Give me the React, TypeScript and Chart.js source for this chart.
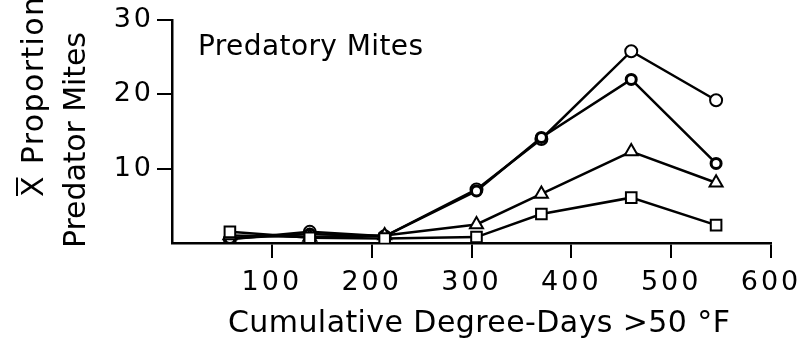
import React, { useEffect, useRef } from "react";
import { Chart, registerables } from "chart.js";

Chart.register(...registerables);

// ---- data ----
const degreeDays = [58, 138, 213, 305, 370, 460, 545];
const seriesOpenCircle = [0.5, 1.5, 0.9, 7.2, 14.0, 25.8, 19.2];
const seriesBoldCircle = [0.6, 1.2, 0.9, 7.0, 14.2, 22.0, 10.7];
const seriesTriangle = [1.0, 0.8, 1.0, 2.5, 6.6, 12.3, 8.1];
const seriesSquare = [1.5, 0.7, 0.6, 0.8, 3.9, 6.1, 2.4];
const xTickValues = [100, 200, 300, 400, 500, 600];
const yTickValues = [10, 20, 30];
const panelLabel = "Predatory Mites";
const xTitle = "Cumulative Degree-Days >50 °F";
const yTitleLine1 = "X Proportion";
const yTitleLine2 = "Predator Mites";

const FONT = '"DejaVu Sans", sans-serif';
const INK = "#000";

function pts(ys: number[]) {
  return ys.map((y, i) => ({ x: degreeDays[i], y }));
}

function fitText(ctx: CanvasRenderingContext2D, text: string, x: number, y: number, width: number) {
  (ctx as any).letterSpacing = "0px";
  const w = ctx.measureText(text).width;
  const ls = (width - w) / Math.max(1, text.length - 1);
  (ctx as any).letterSpacing = ls + "px";
  ctx.fillText(text, x, y);
  (ctx as any).letterSpacing = "0px";
}

const spacingPlugin = {
  id: "spacingPlugin",
  beforeDraw(chart: any) {
    (chart.ctx as any).letterSpacing = "3px";
  },
  beforeDatasetsDraw(chart: any) {
    (chart.ctx as any).letterSpacing = "0px";
  },
};

const textPlugin = {
  id: "textPlugin",
  afterDraw(chart: any) {
    const ctx: CanvasRenderingContext2D = chart.ctx;
    ctx.save();
    ctx.fillStyle = INK;
    ctx.strokeStyle = INK;
    ctx.textAlign = "left";
    ctx.textBaseline = "alphabetic";

    // panel label
    ctx.font = `28px ${FONT}`;
    fitText(ctx, panelLabel, 198, 55, 225);

    // x title
    ctx.font = `30px ${FONT}`;
    fitText(ctx, xTitle, 228, 332, 502);

    // y title line 1 (with overline on X)
    ctx.save();
    ctx.translate(43, 197);
    ctx.rotate(-Math.PI / 2);
    ctx.font = `30px ${FONT}`;
    fitText(ctx, yTitleLine1, 0, 0, 200);
    (ctx as any).letterSpacing = "0px";
    const wX = ctx.measureText("X").width;
    ctx.lineWidth = 2;
    ctx.beginPath();
    ctx.moveTo(1, -26);
    ctx.lineTo(wX - 1, -26);
    ctx.stroke();
    ctx.restore();

    // y title line 2
    ctx.save();
    ctx.translate(85, 248);
    ctx.rotate(-Math.PI / 2);
    ctx.font = `30px ${FONT}`;
    fitText(ctx, yTitleLine2, 0, 0, 216);
    ctx.restore();

    ctx.restore();
  },
};

export default function App() {
  const ref = useRef<HTMLCanvasElement | null>(null);

  useEffect(() => {
    if (!ref.current) return;
    const common = {
      borderColor: INK,
      backgroundColor: "#fff",
      pointBackgroundColor: "#fff",
      pointBorderColor: INK,
      borderWidth: 2.5,
      pointBorderWidth: 2,
      showLine: true,
      fill: false,
      tension: 0,
    };
    const chart = new Chart(ref.current, {
      type: "scatter",
      data: {
        datasets: [
          { ...common, label: "a", data: pts(seriesSquare), pointStyle: "rect", pointRadius: 7.5 },
          { ...common, label: "b", data: pts(seriesTriangle), pointStyle: "triangle", pointRadius: 7.5 },
          { ...common, label: "c", data: pts(seriesBoldCircle), pointStyle: "circle", pointRadius: 5, pointBorderWidth: 3 },
          { ...common, label: "d", data: pts(seriesOpenCircle), pointStyle: "circle", pointRadius: 6 },
        ],
      },
      options: {
        responsive: false,
        animation: false,
        layout: { padding: { top: 20, right: 36, left: 0, bottom: 0 } },
        plugins: {
          legend: { display: false },
          tooltip: { enabled: false },
          title: { display: false },
        },
        scales: {
          x: {
            type: "linear",
            min: 0,
            max: 600,
            afterBuildTicks: (s: any) => {
              s.ticks = [0, ...xTickValues].map((v) => ({ value: v }));
            },
            afterFit: (s: any) => {
              s.height = 103;
            },
            border: { display: true, color: INK, width: 2.5 },
            grid: {
              drawOnChartArea: false,
              drawTicks: true,
              tickLength: 15,
              lineWidth: 2,
              color: (c: any) => (c.tick && c.tick.value === 0 ? "rgba(0,0,0,0)" : INK),
            },
            ticks: {
              color: INK,
              padding: 9,
              maxRotation: 0,
              autoSkip: false,
              font: { family: FONT, size: 27 },
              callback: (v: any) => (v === 0 ? "" : String(v)),
            },
          },
          y: {
            type: "linear",
            min: 0,
            max: 30,
            afterBuildTicks: (s: any) => {
              s.ticks = [0, ...yTickValues].map((v) => ({ value: v }));
            },
            afterFit: (s: any) => {
              s.width = 172;
            },
            border: { display: true, color: INK, width: 2.5 },
            grid: {
              drawOnChartArea: false,
              drawTicks: true,
              tickLength: 15,
              lineWidth: 2,
              color: (c: any) => (c.tick && c.tick.value === 0 ? "rgba(0,0,0,0)" : INK),
            },
            ticks: {
              color: INK,
              padding: 3,
              autoSkip: false,
              font: { family: FONT, size: 27 },
              callback: (v: any) => (v === 0 ? "" : String(v)),
            },
          },
        },
      },
      plugins: [spacingPlugin, textPlugin],
    });
    return () => chart.destroy();
  }, []);

  return (
    <div style={{ position: "absolute", left: 0, top: 0, width: 807, height: 346, background: "#fff" }}>
      <canvas ref={ref} width={807} height={346} style={{ width: 807, height: 346, display: "block" }} />
    </div>
  );
}
